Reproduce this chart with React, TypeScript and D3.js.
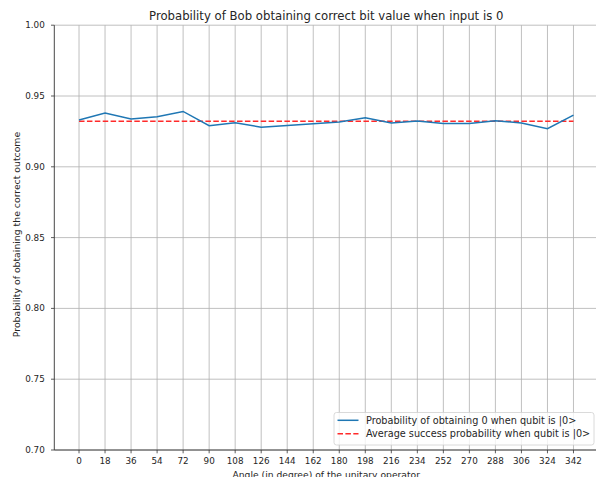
import React from "react";
import * as d3 from "d3";

const angles = [0, 18, 36, 54, 72, 90, 108, 126, 144, 162, 180, 198, 216, 234, 252, 270, 288, 306, 324, 342];
const probZero = [
  0.933, 0.9379, 0.9337, 0.9354, 0.9391, 0.929, 0.9311, 0.928, 0.9292, 0.9304,
  0.9316, 0.9347, 0.9309, 0.9323, 0.9306, 0.9306, 0.9326, 0.9309, 0.9269, 0.9365,
];
const yTicks = [0.7, 0.75, 0.8, 0.85, 0.9, 0.95, 1.0];
const titleText = "Probability of Bob obtaining correct bit value when input is 0";
const xLabelText = "Angle (in degree) of the unitary operator";
const yLabelText = "Probability of obtaining the correct outcome";
const legendLabels = [
  "Probability of obtaining 0 when qubit is |0>",
  "Average success probability when qubit is |0>",
];

const W = 596;
const H = 477;
const FONT = "DejaVu Sans, sans-serif";
const BLUE = "#1f77b4";
const RED = "#ff2a2a";
const TEXT = "#262626";

export default function App() {
  const xPad = (d3.max(angles)! - d3.min(angles)!) * 0.05;
  const x = d3
    .scaleLinear()
    .domain([d3.min(angles)! - xPad, d3.max(angles)! + xPad])
    .range([54.3, 598.2]);
  const y = d3.scaleLinear().domain([0.7, 1.0]).range([450, 25.2]);

  const avg = d3.mean(probZero)!;

  const line = d3
    .line<number>()
    .x((_, i) => x(angles[i]))
    .y((v) => y(v));

  const [x0, x1] = x.range();
  const [yb, yt] = y.range();

  const legendX = 334;
  const legendY = 412.5;
  const legendW = 260;
  const legendH = 32.5;

  return (
    <svg
      width={W}
      height={H}
      style={{ position: "fixed", left: 0, top: 0, background: "#fff" }}
      fontFamily={FONT}
    >
      <rect x={0} y={0} width={W} height={H} fill="#fff" />

      {/* grid */}
      <g stroke="#b0b0b0" strokeWidth={0.8}>
        {angles.map((a) => (
          <line key={"gx" + a} x1={x(a)} x2={x(a)} y1={yb} y2={yt} />
        ))}
        {yTicks.map((t) => (
          <line key={"gy" + t} x1={x0} x2={x1} y1={y(t)} y2={y(t)} />
        ))}
      </g>

      {/* average line */}
      <line
        x1={x(angles[0])}
        x2={x(angles[angles.length - 1])}
        y1={y(avg)}
        y2={y(avg)}
        stroke={RED}
        strokeWidth={1.5}
        strokeDasharray="5.5,2.4"
      />

      {/* measured probabilities */}
      <path d={line(probZero) ?? ""} fill="none" stroke={BLUE} strokeWidth={1.5} />

      {/* spines */}
      <line x1={x0} x2={x0} y1={yb} y2={yt} stroke="#333" strokeWidth={0.9} />
      <line x1={x0} x2={x1} y1={yb} y2={yb} stroke="#333" strokeWidth={0.9} />

      {/* y axis ticks */}
      <g fontSize={8.8} fill={TEXT}>
        {yTicks.map((t) => (
          <g key={"ty" + t}>
            <line x1={x0 - 3.3} x2={x0} y1={y(t)} y2={y(t)} stroke="#333" strokeWidth={0.8} />
            <text x={x0 - 9.5} y={y(t)} textAnchor="end" dominantBaseline="central">
              {d3.format(".2f")(t)}
            </text>
          </g>
        ))}
      </g>

      {/* x axis ticks */}
      <g fontSize={8.8} fill={TEXT}>
        {angles.map((a) => (
          <g key={"tx" + a}>
            <line x1={x(a)} x2={x(a)} y1={yb} y2={yb + 3.3} stroke="#333" strokeWidth={0.8} />
            <text x={x(a)} y={yb + 14.3} textAnchor="middle">
              {a}
            </text>
          </g>
        ))}
      </g>

      {/* labels */}
      <text x={(x0 + x1) / 2} y={19.5} textAnchor="middle" fontSize={11.7} fill={TEXT}>
        {titleText}
      </text>
      <text x={(x0 + x1) / 2} y={477.5} textAnchor="middle" fontSize={9.2} fill={TEXT}>
        {xLabelText}
      </text>
      <text
        transform={`translate(19.5,234.5) rotate(-90)`}
        textAnchor="middle"
        fontSize={9.3}
        fill={TEXT}
      >
        {yLabelText}
      </text>

      {/* legend */}
      <g>
        <rect
          x={legendX}
          y={legendY}
          width={legendW}
          height={legendH}
          rx={2.5}
          fill="#fff"
          fillOpacity={0.8}
          stroke="#d0d0d0"
          strokeWidth={0.8}
        />
        <line x1={legendX + 3.5} x2={legendX + 24.5} y1={legendY + 7.8} y2={legendY + 7.8} stroke={BLUE} strokeWidth={1.5} />
        <line
          x1={legendX + 3.5}
          x2={legendX + 24.5}
          y1={legendY + 21.3}
          y2={legendY + 21.3}
          stroke={RED}
          strokeWidth={1.5}
          strokeDasharray="5.5,2.4"
        />
        <text x={legendX + 32} y={legendY + 7.8} dominantBaseline="central" fontSize={9.7} fill={TEXT}>
          {legendLabels[0]}
        </text>
        <text x={legendX + 32} y={legendY + 21.3} dominantBaseline="central" fontSize={9.7} fill={TEXT}>
          {legendLabels[1]}
        </text>
      </g>
    </svg>
  );
}
